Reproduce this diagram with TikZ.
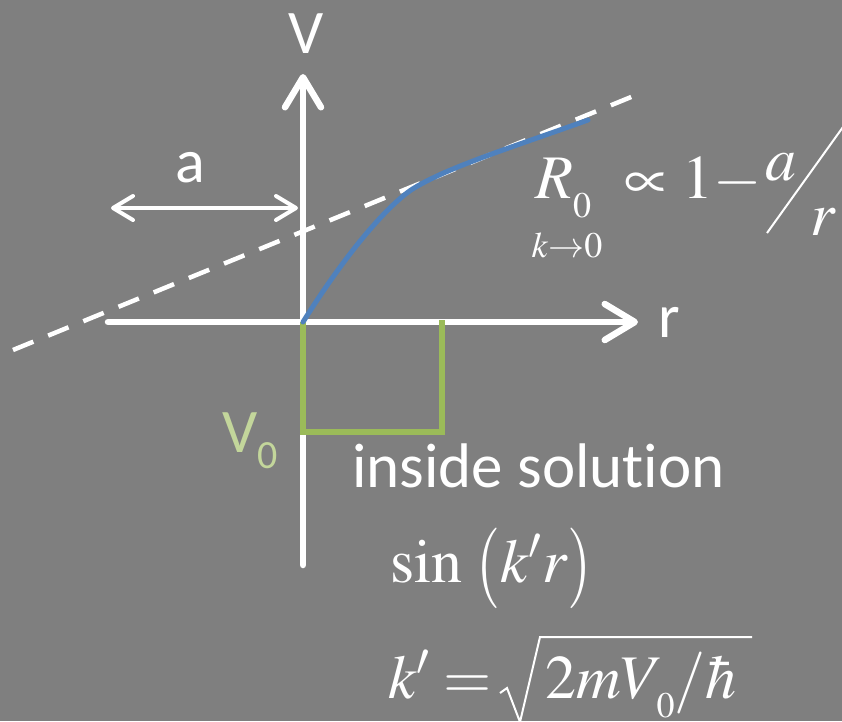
\RequirePackage{fix-cm}
\documentclass[tikz,border=0pt]{standalone}
\usepackage{mathptmx}
\usepackage[no-math]{fontspec}
\usepackage{tikz}
\usetikzlibrary{arrows.meta}
\newfontfamily\calibri[Ligatures=NoCommon]{Carlito}
\definecolor{slidegray}{RGB}{127,127,127}
\definecolor{curveblue}{RGB}{79,129,189}
\definecolor{wellgreen}{RGB}{155,187,89}
\definecolor{labelgreen}{RGB}{195,214,155}
\newcommand{\bigtxt}{\fontsize{62}{74}\selectfont}
\newcommand{\limtxt}{\fontsize{36}{42}\selectfont}
% low subscript, as the slide sets it
\newcommand{\lowsub}[1]{\raisebox{-19pt}{\fontsize{36}{40}\selectfont$#1$}}
% tall round brackets
\newcommand{\tallL}{\raisebox{-6pt}{\scalebox{1}[1.3]{$($}}}
\newcommand{\tallR}{\raisebox{-6pt}{\scalebox{1}[1.3]{$)$}}}
\tikzset{
  axis/.style={white, line width=6.5pt, line cap=round},
  lab/.style={inner sep=0pt, text=white, font=\calibri\bigtxt},
  eqn/.style={inner sep=0pt, text=white, font=\bigtxt},
  openhead/.tip={Straight Barb[length=30pt, width=36pt, line cap=round, line join=round]},
  smallhead/.tip={Straight Barb[length=20pt, width=24pt, line cap=round, line join=round]}
}

\begin{document}
\begin{tikzpicture}[x=1pt, y=-1pt]
  \fill[slidegray] (0,0) rectangle (842,721);
  \useasboundingbox (0,0) rectangle (842,721);
  \clip (0,0) rectangle (842,721);
  % axes
  \coordinate (O) at (303,322);
  \coordinate (Vbot) at (303,565);
  \coordinate (Vtop) at (303,74);
  \coordinate (rleft) at (108,322);
  \coordinate (rtip) at (638,322);
  \draw[axis, -{openhead}] (Vbot) -- (Vtop);
  \draw[axis, -{openhead}] (rleft) -- (rtip);
  \node[lab, anchor=base] (Vlab) at (306,53) {V};
  \node[lab, anchor=base] (rlab) at (669,337) {r};
  % scattering length
  \coordinate (aL) at (111,208);
  \coordinate (aR) at (298,208);
  \draw[white, line width=4pt, {smallhead}-{smallhead}] (aL) -- (aR);
  \node[lab, anchor=base] (alab) at (190,182) {a};
  \coordinate (d1) at (13,350);
  \coordinate (d2) at (636,95);
  \draw[white, line width=4.5pt, dash pattern=on 22pt off 16pt] (d1) -- (d2);
  % square well
  \coordinate (W1) at (442,320);
  \draw[wellgreen, line width=6pt] (O) -- (303,432) -- (442,432) -- (W1);
  \node[inner sep=0pt, text=labelgreen, font=\calibri\bigtxt, anchor=base west] (V0lab) at (222,452)
    {V\raisebox{-16pt}{\fontsize{40}{48}\selectfont 0}};
  % wave function
  \coordinate (K) at (411,190);
  \coordinate (Rend) at (588,120);
  \draw[curveblue, line width=5pt, line cap=round] (O) .. controls (345,255) and (385,208) .. (K)
    .. controls (445,168) and (510,148) .. (Rend);
  % formulas
  \node[eqn, anchor=base west] (R0) at (535,198) {$R\lowsub{0}$};
  \node[eqn, anchor=base, font=\limtxt] (lim) at (567,257) {$k{\to}0$};
  \node[eqn, anchor=base west] (prop) at (624,198) {$\propto 1-$};
  \node[eqn, anchor=base west] (anum) at (765,180) {$a$};
  \node[eqn, anchor=base west] (rden) at (810,235) {$r$};
  \draw[white, line width=2pt] (767,233) -- (848,120);
  \node[lab, anchor=base west, font=\calibri\fontsize{63}{75}\selectfont] (inside) at (352,487) {inside solution};
  \node[eqn, anchor=base west] (sinkr) at (390,582) {$\sin\,\tallL k'r\tallR$};
  \node[eqn, anchor=base west] (kprime) at (388,698) {$k' =$};
  \node[eqn, anchor=base west] (radicand) at (545,698) {$2mV\!\lowsub{0}/\hbar$};
  % radical sign
  \draw[white, line width=2pt, line join=miter] (500,693) -- (507,688) -- (520,722) -- (540,637) -- (752,637);
\end{tikzpicture}
\end{document}
